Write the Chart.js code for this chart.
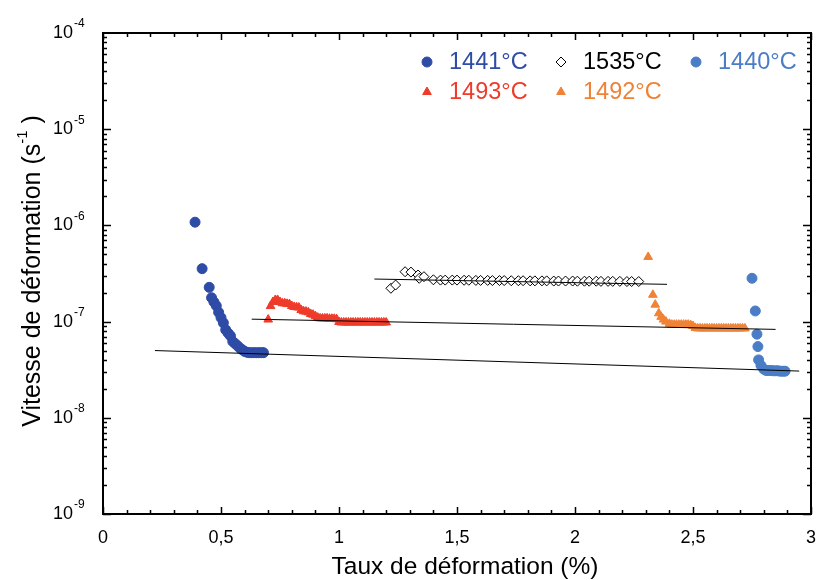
<!DOCTYPE html>
<html>
<head>
<meta charset="utf-8">
<script src="https://cdn.jsdelivr.net/npm/chart.js@4/dist/chart.umd.min.js"></script>
<style>
html, body { margin: 0; padding: 0; background: #fff; }
canvas { display: block; }
</style>
</head>
<body>
<canvas id="chart" width="817" height="580"></canvas>
<script>
// valeurs
const x1441 = [0.39, 0.42, 0.45, 0.46, 0.47, 0.48, 0.49, 0.50, 0.51, 0.52, 0.53, 0.54, 0.55, 0.56, 0.57, 0.58, 0.59, 0.60, 0.61, 0.62, 0.63, 0.64, 0.65, 0.66, 0.67, 0.68];
const y1441 = [1.08e-6, 3.55e-7, 2.27e-7, 1.77e-7, 1.6e-7, 1.46e-7, 1.25e-7, 1.1e-7, 9.7e-8, 8.2e-8, 7.6e-8, 7.1e-8, 6.2e-8, 5.9e-8, 5.6e-8, 5.3e-8, 5.1e-8, 4.9e-8, 4.8e-8, 4.75e-8, 4.75e-8, 4.75e-8, 4.75e-8, 4.75e-8, 4.75e-8, 4.75e-8];

const x1493 = [0.68, 0.70, 0.71, 0.72, 0.73, 0.74, 0.75, 0.76, 0.77, 0.78, 0.79, 0.80, 0.81, 0.82, 0.83, 0.84, 0.85, 0.86, 0.87, 0.88, 0.89, 0.90, 0.91, 0.92, 0.93, 0.94, 0.95, 0.96, 0.97, 0.98, 0.99, 1.00, 1.01, 1.02, 1.03, 1.04, 1.05, 1.06, 1.07, 1.08, 1.09, 1.10, 1.11, 1.12, 1.13, 1.14, 1.15, 1.16, 1.17, 1.18, 1.19, 1.20];
const y1493 = [4.8e-8, 1.05e-7, 1.45e-7, 1.6e-7, 1.68e-7, 1.68e-7, 1.6e-7, 1.55e-7, 1.55e-7, 1.53e-7, 1.52e-7, 1.45e-7, 1.42e-7, 1.41e-7, 1.4e-7, 1.32e-7, 1.28e-7, 1.27e-7, 1.25e-7, 1.2e-7, 1.18e-7, 1.14e-7, 1.1e-7, 1.08e-7, 1.08e-7, 1.08e-7, 1.08e-7, 1.07e-7, 1.07e-7, 1.07e-7, 1.06e-7, 9.9e-8, 9.8e-8, 9.8e-8, 9.8e-8, 9.8e-8, 9.8e-8, 9.8e-8, 9.8e-8, 9.8e-8, 9.8e-8, 9.8e-8, 9.8e-8, 9.8e-8, 9.8e-8, 9.8e-8, 9.8e-8, 9.8e-8, 9.8e-8, 9.8e-8, 9.8e-8, 9.8e-8];

const x1535 = [1.22, 1.24, 1.28, 1.305, 1.335, 1.34, 1.36, 1.40, 1.43, 1.45, 1.48, 1.50, 1.53, 1.55, 1.58, 1.60, 1.63, 1.65, 1.68, 1.70, 1.73, 1.76, 1.78, 1.81, 1.83, 1.86, 1.88, 1.91, 1.93, 1.96, 1.99, 2.01, 2.04, 2.06, 2.09, 2.11, 2.14, 2.16, 2.19, 2.22, 2.24, 2.27];
const y1535 = [2.22e-7, 2.4e-7, 3.3e-7, 3.27e-7, 3.05e-7, 2.82e-7, 2.93e-7, 2.72e-7, 2.7e-7, 2.7e-7, 2.7e-7, 2.7e-7, 2.69e-7, 2.69e-7, 2.68e-7, 2.68e-7, 2.68e-7, 2.67e-7, 2.67e-7, 2.67e-7, 2.66e-7, 2.66e-7, 2.66e-7, 2.65e-7, 2.65e-7, 2.65e-7, 2.65e-7, 2.64e-7, 2.64e-7, 2.64e-7, 2.64e-7, 2.63e-7, 2.63e-7, 2.63e-7, 2.63e-7, 2.62e-7, 2.62e-7, 2.62e-7, 2.62e-7, 2.61e-7, 2.61e-7, 2.61e-7];

const x1492 = [2.31, 2.33, 2.34, 2.355, 2.365, 2.375, 2.385, 2.40, 2.41, 2.42, 2.43, 2.44, 2.45, 2.46, 2.47, 2.48, 2.49, 2.50, 2.51, 2.52, 2.53, 2.54, 2.55, 2.56, 2.57, 2.58, 2.59, 2.60, 2.61, 2.62, 2.63, 2.64, 2.65, 2.66, 2.67, 2.68, 2.69, 2.70, 2.71, 2.72];
const y1492 = [4.7e-7, 1.9e-7, 1.5e-7, 1.22e-7, 1.12e-7, 1.05e-7, 1.0e-7, 9.5e-8, 9.3e-8, 9.3e-8, 9.3e-8, 9.3e-8, 9.3e-8, 9.3e-8, 9.3e-8, 9.3e-8, 9.2e-8, 9.0e-8, 8.6e-8, 8.5e-8, 8.5e-8, 8.5e-8, 8.5e-8, 8.5e-8, 8.5e-8, 8.5e-8, 8.5e-8, 8.5e-8, 8.5e-8, 8.5e-8, 8.5e-8, 8.5e-8, 8.5e-8, 8.5e-8, 8.5e-8, 8.5e-8, 8.5e-8, 8.5e-8, 8.5e-8, 8.5e-8];

const x1440 = [2.75, 2.764, 2.771, 2.775, 2.778, 2.788, 2.80, 2.81, 2.82, 2.83, 2.84, 2.85, 2.86, 2.87, 2.88, 2.89];
const y1440 = [2.82e-7, 1.29e-7, 7.4e-8, 5.5e-8, 4.0e-8, 3.5e-8, 3.2e-8, 3.1e-8, 3.1e-8, 3.1e-8, 3.08e-8, 3.08e-8, 3.08e-8, 3.05e-8, 3.05e-8, 3.05e-8];

// droites d'ajustement
const fitX1 = [0.22, 2.95];
const fitY1 = [5.0e-8, 3.06e-8];
const fitX2 = [0.63, 2.85];
const fitY2 = [1.06e-7, 8.3e-8];
const fitX3 = [1.15, 2.39];
const fitY3 = [2.77e-7, 2.44e-7];

const xTickValues = [0, 0.5, 1, 1.5, 2, 2.5, 3];
const xTickLabels = ["0", "0,5", "1", "1,5", "2", "2,5", "3"];
const yTickExponents = [-9, -8, -7, -6, -5, -4];

const FONT = "'Liberation Sans', Arial, Helvetica, sans-serif";

function pts(xs, ys) {
    return xs.map((x, i) => ({ x: x, y: ys[i] }));
}

function fitLine(xs, ys) {
    return {
        type: "line",
        data: pts(xs, ys),
        borderColor: "#000",
        borderWidth: 1,
        pointRadius: 0,
        fill: false,
        order: 0,
        inLegend: false
    };
}

function series(label, xs, ys, style, color, fillColor) {
    return {
        type: "scatter",
        label: label,
        data: pts(xs, ys),
        pointStyle: style,
        pointRadius: 5,
        pointBackgroundColor: fillColor || color,
        pointBorderColor: color,
        pointBorderWidth: 1,
        textColor: color,
        order: 1,
        inLegend: true
    };
}

// cadre, graduations, libellés et légende
const framePlugin = {
    id: "frame",
    afterDraw(chart) {
        const { ctx, chartArea: a, scales } = chart;
        const xs = scales.x, ys = scales.y;
        ctx.save();

        ctx.strokeStyle = "#000";
        ctx.lineWidth = 1.5;
        ctx.beginPath();
        for (let i = 0; i <= 30; i++) {
            const px = Math.round(xs.getPixelForValue(i / 10)) + 0.5;
            const len = i % 5 === 0 ? 7 : 4;
            ctx.moveTo(px, a.bottom); ctx.lineTo(px, a.bottom - len);
            ctx.moveTo(px, a.top); ctx.lineTo(px, a.top + len);
        }
        for (let e = -9; e < -4; e++) {
            for (let k = 1; k <= 9; k++) {
                const py = Math.round(ys.getPixelForValue(k * Math.pow(10, e))) + 0.5;
                const len = k === 1 ? 8 : 4;
                ctx.moveTo(a.left, py); ctx.lineTo(a.left + len, py);
                ctx.moveTo(a.right, py); ctx.lineTo(a.right - len, py);
            }
        }
        ctx.stroke();

        ctx.lineWidth = 2;
        ctx.strokeRect(a.left, a.top, a.right - a.left, a.bottom - a.top);

        ctx.fillStyle = "#000";
        ctx.font = "18px " + FONT;
        ctx.textAlign = "center";
        ctx.textBaseline = "middle";
        xTickValues.forEach((v, i) => {
            ctx.fillText(xTickLabels[i], xs.getPixelForValue(v), 538);
        });

        yTickExponents.forEach(e => {
            const py = ys.getPixelForValue(Math.pow(10, e));
            ctx.font = "18px " + FONT;
            ctx.textAlign = "right";
            ctx.fillText("10", 73, py);
            ctx.font = "12px " + FONT;
            ctx.textAlign = "left";
            ctx.fillText(String(e), 74, py - 9);
        });

        ctx.font = "24.5px " + FONT;
        ctx.textAlign = "center";
        ctx.fillText("Taux de déformation (%)", 465, 567);

        ctx.save();
        ctx.translate(33, 271);
        ctx.rotate(-Math.PI / 2);
        const t1 = "Vitesse de déformation (s", t2 = "-1", t3 = " )";
        ctx.font = "25px " + FONT;
        const w1 = ctx.measureText(t1).width, w3 = ctx.measureText(t3).width;
        ctx.font = "15px " + FONT;
        const w2 = ctx.measureText(t2).width;
        const px = -(w1 + w2 + w3) / 2;
        ctx.textAlign = "left";
        ctx.font = "25px " + FONT;
        ctx.fillText(t1, px, 0);
        ctx.font = "15px " + FONT;
        ctx.fillText(t2, px + w1, -10);
        ctx.font = "25px " + FONT;
        ctx.fillText(t3, px + w1 + w2, 0);
        ctx.restore();

        // légende
        const cols = [427, 561, 696];
        const rows = [62, 92];
        const items = chart.data.datasets.filter(d => d.inLegend);
        const slots = [[0, 0], [1, 0], [2, 0], [0, 1], [1, 1]];
        const order = ["1441°C", "1535°C", "1440°C", "1493°C", "1492°C"];
        ctx.textAlign = "left";
        ctx.textBaseline = "middle";
        order.forEach((lab, i) => {
            const d = items.find(s => s.label === lab);
            const cx = cols[slots[i][0]], cy = rows[slots[i][1]];
            ctx.fillStyle = d.pointBackgroundColor;
            ctx.strokeStyle = d.pointBorderColor;
            ctx.lineWidth = 1;
            Chart.helpers.drawPoint(ctx, { pointStyle: d.pointStyle, rotation: 0, borderWidth: 1, radius: 5 }, cx, cy);
            ctx.font = "23.5px " + FONT;
            ctx.fillStyle = d.textColor;
            ctx.fillText(lab, cx + 22, cy + 1);
        });

        ctx.restore();
    }
};

new Chart(document.getElementById("chart").getContext("2d"), {
    data: {
        datasets: [
            fitLine(fitX1, fitY1),
            fitLine(fitX2, fitY2),
            fitLine(fitX3, fitY3),
            series("1441°C", x1441, y1441, "circle", "#2E4BA6"),
            series("1493°C", x1493, y1493, "triangle", "#EE3B2A"),
            series("1535°C", x1535, y1535, "rectRot", "#000000", "#ffffff"),
            series("1492°C", x1492, y1492, "triangle", "#F08236"),
            series("1440°C", x1440, y1440, "circle", "#4A7DC6")
        ]
    },
    options: {
        responsive: false,
        animation: false,
        devicePixelRatio: 1,
        layout: { padding: { top: 33, right: 1, left: 0, bottom: 0 } },
        plugins: {
            legend: { display: false },
            tooltip: { enabled: false }
        },
        scales: {
            x: {
                type: "linear",
                min: 0,
                max: 3,
                grid: { display: false },
                border: { display: false },
                ticks: { display: false },
                afterFit: s => { s.height = 66; }
            },
            y: {
                type: "logarithmic",
                min: 1e-9,
                max: 1e-4,
                grid: { display: false },
                border: { display: false },
                ticks: { display: false },
                afterFit: s => { s.width = 103; }
            }
        }
    },
    plugins: [framePlugin]
});
</script>
</body>
</html>
